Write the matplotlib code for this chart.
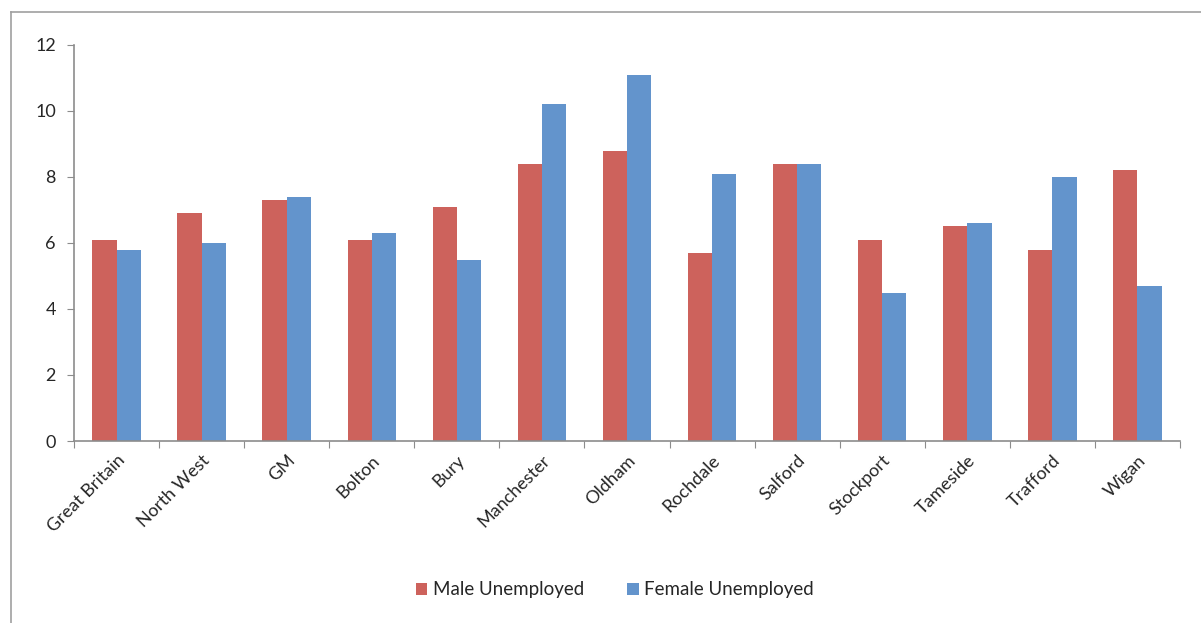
import numpy as np
import matplotlib.pyplot as plt
from matplotlib.lines import Line2D

plt.rcParams['font.family'] = ['Lato', 'DejaVu Sans']

areas = ["Great Britain", "North West", "GM", "Bolton", "Bury", "Manchester",
         "Oldham", "Rochdale", "Salford", "Stockport", "Tameside", "Trafford", "Wigan"]
male = [6.1, 6.9, 7.3, 6.1, 7.1, 8.4, 8.8, 5.7, 8.4, 6.1, 6.5, 5.8, 8.2]
female = [5.8, 6.0, 7.4, 6.3, 5.5, 10.2, 11.1, 8.1, 8.4, 4.5, 6.6, 8.0, 4.7]

red = "#CD625C"
blue = "#6394CC"
grey = "#8c8c8c"
txt = "#262626"

fig = plt.figure(figsize=(12.01, 6.23), dpi=100)
ax = fig.add_axes([74 / 1201, 1 - 441 / 623, (1180 - 74) / 1201, (441 - 45) / 623])

x = np.arange(len(areas))
w = 0.285
ax.bar(x - w / 2, male, w, color=red, label="Male Unemployed")
ax.bar(x + w / 2, female, w, color=blue, label="Female Unemployed")

ax.set_xlim(-0.5, len(areas) - 0.5)
ax.set_ylim(0, 12)
ax.set_yticks(range(0, 13, 2))
ax.tick_params(axis='y', length=5, color=grey, labelsize=13, pad=8, labelcolor=txt)

# category boundaries carry the tick marks, labels sit in the middle
ax.set_xticks(np.arange(-0.5, len(areas)), minor=False)
ax.set_xticklabels([])
ax.tick_params(axis='x', length=5, color=grey)
ax.set_xticks(x, minor=True)
ax.set_xticklabels(areas, minor=True, rotation=45, ha='right', rotation_mode='anchor',
                   fontsize=13, color=txt)
ax.tick_params(axis='x', which='minor', length=0, pad=8)

for s in ['top', 'right']:
    ax.spines[s].set_visible(False)
for s in ['left', 'bottom']:
    ax.spines[s].set_color(grey)
    ax.spines[s].set_linewidth(1.2)

fig.legend(loc='center', bbox_to_anchor=(615 / 1201, 1 - 590 / 623), ncol=2, frameon=False,
           fontsize=13.5, handlelength=0.6, handleheight=0.6, handletextpad=0.3,
           columnspacing=2.3, labelcolor=txt)

# outer chart frame
fig.add_artist(Line2D([11 / 1201, 11 / 1201], [0, 1 - 12 / 623], color="#a0a0a0", lw=1.2,
                      transform=fig.transFigure))
fig.add_artist(Line2D([11 / 1201, 1], [1 - 12 / 623, 1 - 12 / 623], color="#a0a0a0", lw=1.2,
                      transform=fig.transFigure))

fig.savefig("out.png", dpi=100)
